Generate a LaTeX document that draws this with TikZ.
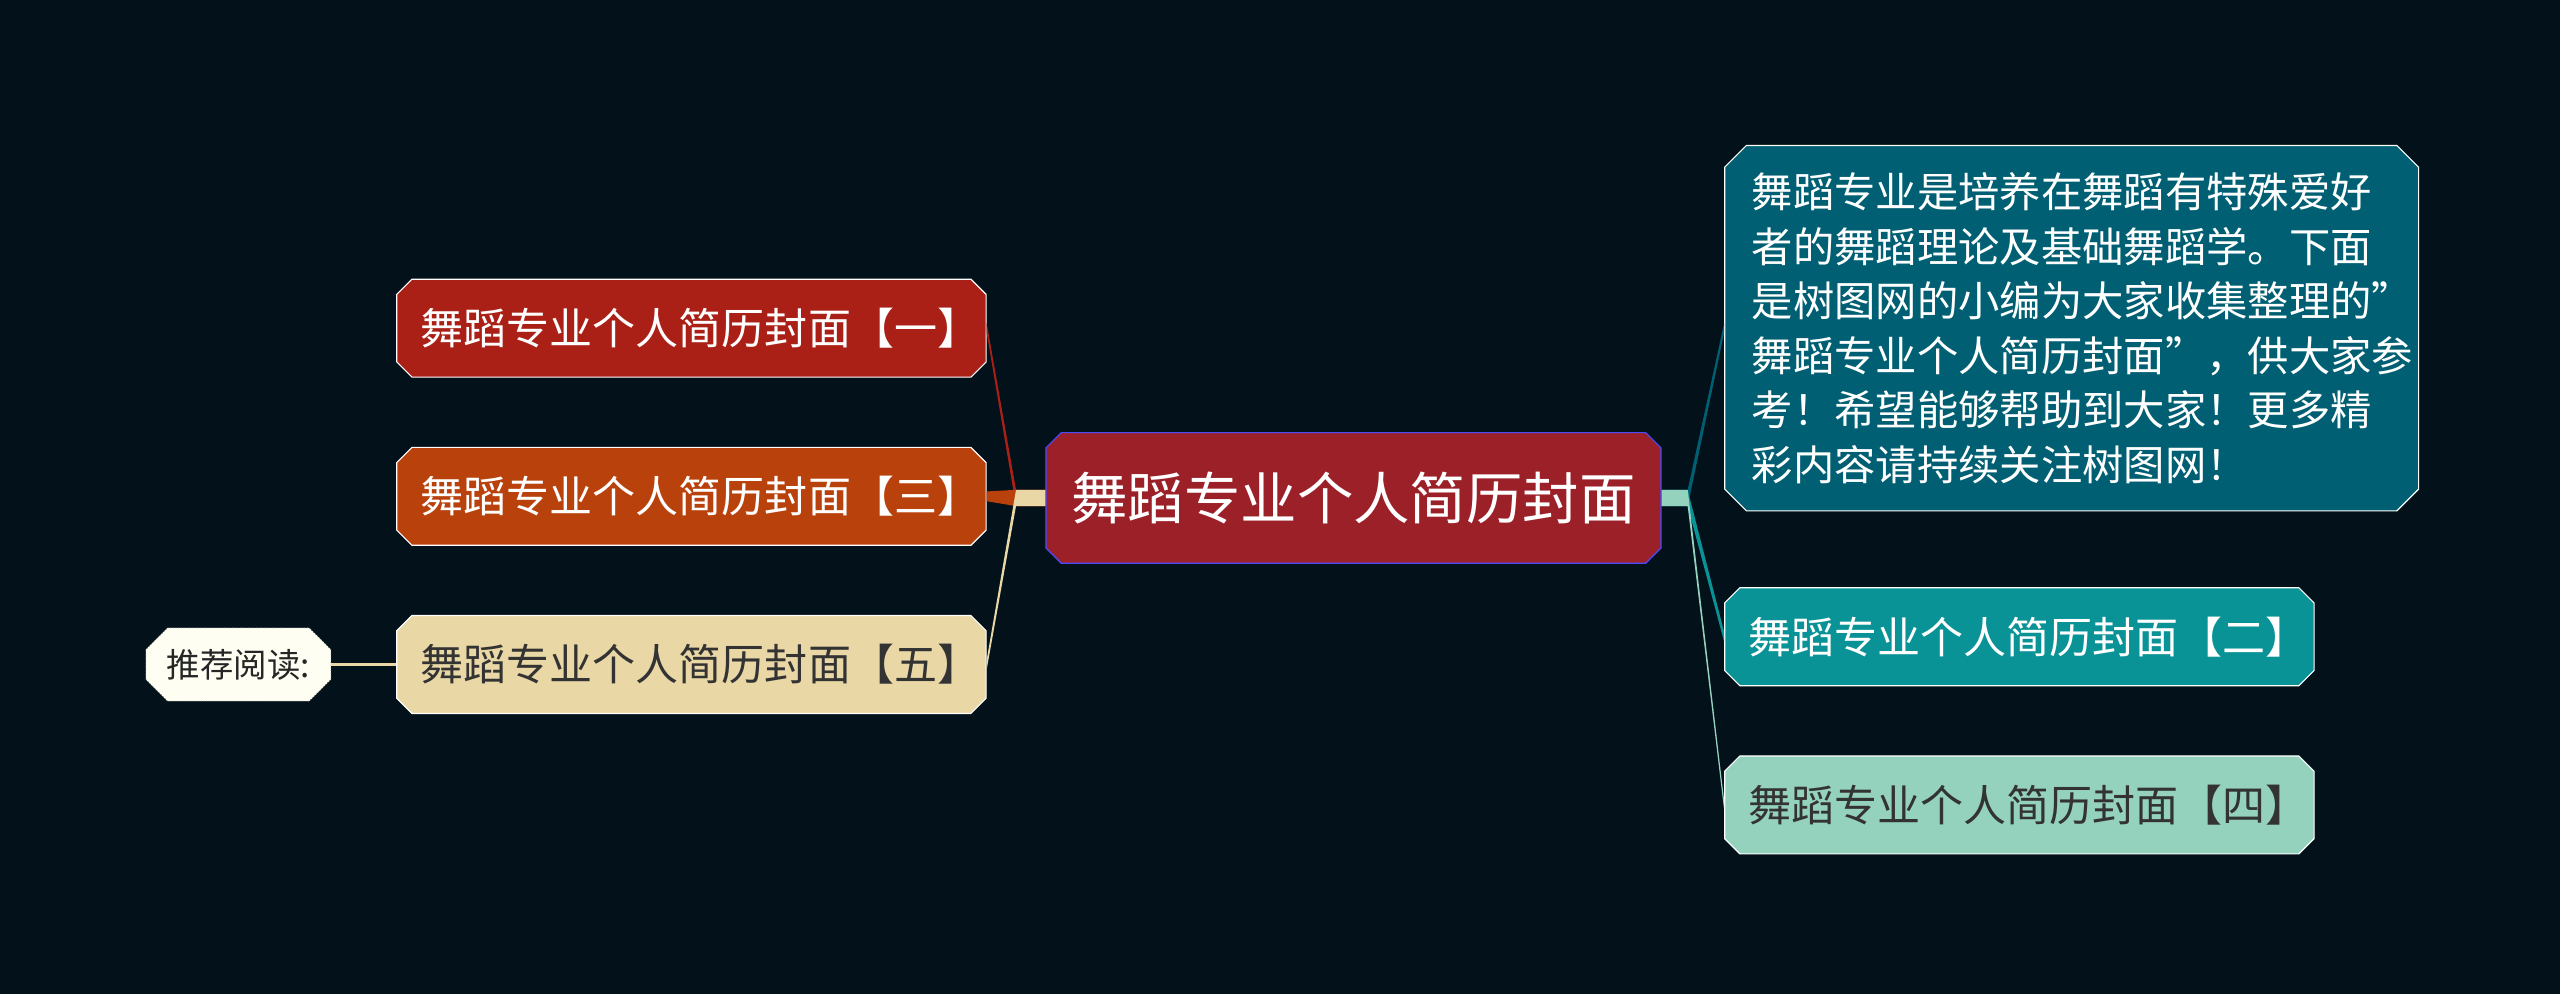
\documentclass[tikz,border=0pt]{standalone}
\usepackage{fontspec}
\setmainfont{Noto Sans CJK SC}
\usetikzlibrary{shapes.misc,calc}
\definecolor{bgc}{HTML}{02111A}
\definecolor{rootc}{HTML}{9B2028}
\definecolor{redc}{HTML}{AA2016}
\definecolor{orac}{HTML}{B9410B}
\definecolor{begc}{HTML}{E9D8A6}
\definecolor{tdkc}{HTML}{005F73}
\definecolor{tmdc}{HTML}{0A9396}
\definecolor{tltc}{HTML}{94D2BD}
\tikzset{
  topic/.style={chamfered rectangle, chamfered rectangle xsep=2cm, chamfered rectangle sep=0.14cm,
    draw=white, line width=0.6pt, inner xsep=0.3cm, minimum height=1.8cm, font=\fontsize{22.5}{28}\selectfont},
  leaf/.style={topic, text=white, text width=9.95cm, align=left},
}
\begin{document}
\begin{tikzpicture}[x=0.03cm,y=-0.03cm]
\fill[bgc] (0,0) rectangle (1568,609);
\useasboundingbox (0,0) rectangle (1568,609);
% centre
\node[topic, fill=rootc, draw=blue!70!white, text=white, minimum width=11.3cm, minimum height=2.4cm,
  font=\fontsize{29.5}{34}\selectfont] (root) at (829,305) {舞蹈专业个人简历封面};
% left side
\node[leaf, fill=redc] (one) at (423.5,201) {舞蹈专业个人简历封面【一】};
\node[leaf, fill=orac] (three) at (423.5,304) {舞蹈专业个人简历封面【三】};
\node[leaf, fill=begc, text=black!80] (five) at (423.5,407) {舞蹈专业个人简历封面【五】};
\node[chamfered rectangle, chamfered rectangle xsep=2cm, chamfered rectangle sep=0.2cm,
  fill=white!95!yellow, draw=black!60, densely dotted, minimum width=3.4cm, minimum height=1.35cm,
  inner xsep=0.1cm, font=\fontsize{17.5}{20}\selectfont, text=black!85] (read) at (146,407) {推荐阅读:};
% right side
\node[topic, fill=tdkc, text=white, anchor=west, text width=11.75cm, align=left, inner ysep=0.3cm,
  chamfered rectangle sep=0.2cm, font=\fontsize{21.6}{28.5}\selectfont] (desc) at (1056,201)
  {舞蹈专业是培养在舞蹈有特殊爱好\\者的舞蹈理论及基础舞蹈学。下面\\是树图网的小编为大家收集整理的"\\舞蹈专业个人简历封面"，供大家参\\考！希望能够帮助到大家！更多精\\彩内容请持续关注树图网！};
\node[leaf, fill=tmdc, anchor=west] (two) at (1056,390) {舞蹈专业个人简历封面【二】};
\node[leaf, fill=tltc, text=black!80, anchor=west] (four) at (1056,493) {舞蹈专业个人简历封面【四】};
% connectors
\foreach \c/\n in {redc/one, orac/three, begc/five}
  \fill[\c] ($(root.west)+(-18,-5)$) -- ($(\n.east)+(0,-3)$) -- ($(\n.east)+(0,3)$) -- ($(root.west)+(-18,5)$) -- ($(root.west)+(0,5)$) -- ($(root.west)+(0,-5)$) -- cycle;
\foreach \c/\n in {tdkc/desc, tmdc/two, tltc/four}
  \fill[\c] ($(root.east)+(16,-5)$) -- ($(\n.west)+(0,-3)$) -- ($(\n.west)+(0,3)$) -- ($(root.east)+(16,5)$) -- ($(root.east)+(0,5)$) -- ($(root.east)+(0,-5)$) -- cycle;
\draw[begc, line width=1.5pt] (read.east) -- (five.west);
\end{tikzpicture}
\end{document}
